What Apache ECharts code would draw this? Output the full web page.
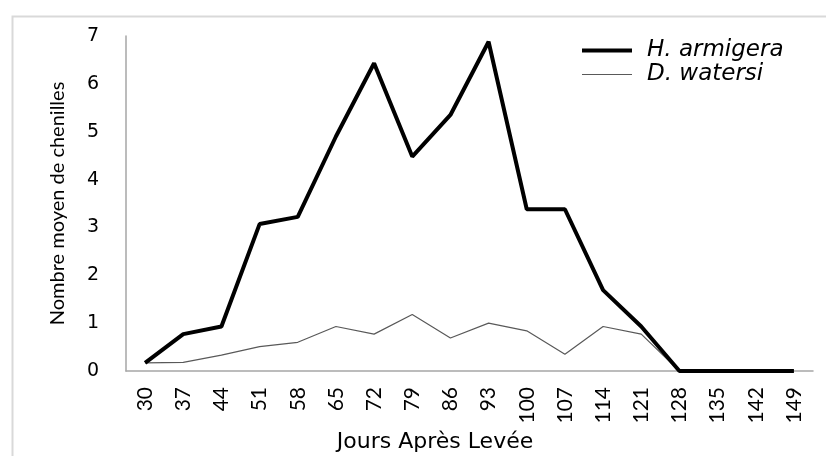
<!DOCTYPE html>
<html>
<head>
<meta charset="utf-8">
<script src="https://cdn.jsdelivr.net/npm/echarts@6/dist/echarts.min.js"></script>
<style>html,body{margin:0;padding:0;background:#fff}#c{width:826px;height:456px}</style>
</head>
<body>
<div id="c"></div>
<script>
const categories = ['30','37','44','51','58','65','72','79','86','93','100','107','114','121','128','135','142','149'];
const armigera = [0.17,0.77,0.93,3.07,3.22,4.9,6.43,4.48,5.35,6.88,3.38,3.38,1.69,0.93,0,0,0,0];
const watersi = [0.17,0.18,0.33,0.51,0.6,0.93,0.77,1.18,0.69,1.0,0.84,0.35,0.93,0.77,0,0,0,0];
const yTicks = [0,1,2,3,4,5,6,7];

const legendText = { fontFamily: 'DejaVu Sans', fontStyle: 'italic', fontSize: 23, color: '#000', padding: [0, 0, 0, 10] };
const chart = echarts.init(document.getElementById('c'));
chart.setOption({
  animation: false,
  backgroundColor: '#fff',
  graphic: [{
    type: 'rect', left: 10, top: 14, z: -1,
    shape: { width: 830, height: 460 },
    style: { fill: 'none', stroke: '#d9d9d9', lineWidth: 2 }
  }],
  grid: { left: 126, right: 13, top: 36, bottom: 85, outerBoundsMode: 'none', containLabel: false },
  legend: [{
    orient: 'vertical', left: 577, top: 34,
    itemWidth: 50, itemHeight: 4, icon: 'rect',
    textStyle: legendText,
    data: ['H. armigera']
  }, {
    orient: 'vertical', left: 577, top: 58,
    itemWidth: 50, itemHeight: 1, icon: 'rect',
    textStyle: legendText,
    data: ['D. watersi']
  }],
  xAxis: {
    type: 'category', data: categories, boundaryGap: true,
    name: 'Jours Après Levée', nameLocation: 'middle', nameGap: 53,
    nameTextStyle: { fontFamily: 'DejaVu Sans', fontSize: 22, color: '#000', padding: [0, 69, 0, 0] },
    axisLine: { lineStyle: { color: '#a6a6a6', width: 1.5 } },
    axisTick: { show: false },
    axisLabel: { rotate: 90, fontFamily: 'Lato', fontSize: 21, color: '#000', margin: 16 }
  },
  yAxis: {
    type: 'value', min: 0, max: 7, interval: 1,
    name: 'Nombre moyen de chenilles', nameLocation: 'middle', nameGap: 58,
    nameTextStyle: { fontFamily: 'Lato', fontSize: 20, color: '#000' },
    axisLine: { show: true, lineStyle: { color: '#a6a6a6', width: 1.5 } },
    axisTick: { show: false },
    splitLine: { show: false },
    axisLabel: { fontFamily: 'DejaVu Sans', fontSize: 19, color: '#000', margin: 27,
      formatter: v => yTicks.includes(v) ? String(v) : '' }
  },
  series: [
    { name: 'H. armigera', type: 'line', data: armigera, symbol: 'none',
      lineStyle: { color: '#000', width: 4 }, itemStyle: { color: '#000' }, z: 3 },
    { name: 'D. watersi', type: 'line', data: watersi, symbol: 'none',
      lineStyle: { color: '#595959', width: 1.2 }, itemStyle: { color: '#595959' }, z: 2 }
  ]
});
</script>
</body>
</html>
